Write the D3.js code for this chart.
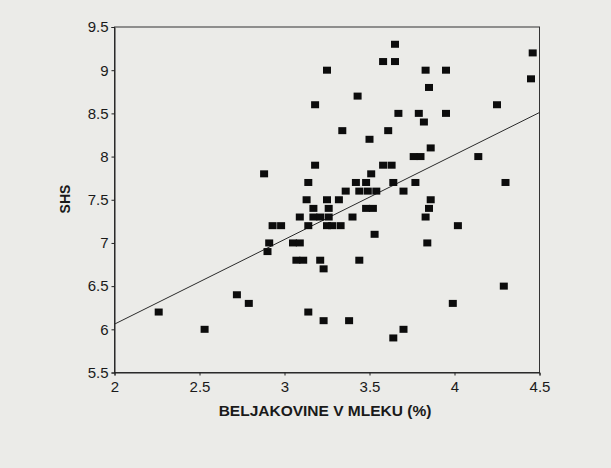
<!DOCTYPE html>
<html>
<head>
<meta charset="utf-8">
<script src="https://cdn.jsdelivr.net/npm/d3@7"></script>
<style>
  body { margin: 0; background: #ebebe8; }
  svg { display: block; font-family: "Liberation Sans", Arial, sans-serif; }
</style>
</head>
<body>
<svg width="611" height="468"></svg>
<script>
// beljakovine v mleku (%) vs SHS
const protein = [
    3.65,
    3.58, 3.65,
    4.46,
    3.25, 3.83, 3.95,
    4.45,
    3.85,
    3.43,
    3.18, 4.25,
    3.67, 3.79, 3.95,
    3.82,
    3.34, 3.61,
    3.50,
    3.86,
    3.76, 3.80, 4.14,
    3.18, 3.58, 3.63,
    2.88, 3.51,
    3.14, 3.42, 3.48, 3.64, 3.77, 4.30,
    3.36, 3.44, 3.49, 3.54, 3.70,
    3.13, 3.25, 3.32, 3.86,
    3.17, 3.26, 3.48, 3.52, 3.85,
    3.09, 3.17, 3.21, 3.26, 3.40, 3.83,
    2.93, 2.98, 3.14, 3.25, 3.28, 3.33, 4.02,
    3.53,
    2.91, 3.05, 3.09, 3.84,
    2.90,
    3.07, 3.11, 3.21, 3.44,
    3.23,
    4.29,
    2.72,
    2.79, 3.99,
    2.26, 3.14,
    3.23, 3.38,
    2.53, 3.70,
    3.64
]
const shs = [
    9.3,
    9.1, 9.1,
    9.2,
    9.0, 9.0, 9.0,
    8.9,
    8.8,
    8.7,
    8.6, 8.6,
    8.5, 8.5, 8.5,
    8.4,
    8.3, 8.3,
    8.2,
    8.1,
    8.0, 8.0, 8.0,
    7.9, 7.9, 7.9,
    7.8, 7.8,
    7.7, 7.7, 7.7, 7.7, 7.7, 7.7,
    7.6, 7.6, 7.6, 7.6, 7.6,
    7.5, 7.5, 7.5, 7.5,
    7.4, 7.4, 7.4, 7.4, 7.4,
    7.3, 7.3, 7.3, 7.3, 7.3, 7.3,
    7.2, 7.2, 7.2, 7.2, 7.2, 7.2, 7.2,
    7.1,
    7.0, 7.0, 7.0, 7.0,
    6.9,
    6.8, 6.8, 6.8, 6.8,
    6.7,
    6.5,
    6.4,
    6.3, 6.3,
    6.2, 6.2,
    6.1, 6.1,
    6.0, 6.0,
    5.9
]
// regression line end points
const fitX = [2, 4.5]
const fitY = [6.06, 8.51]

const xTicks = [2, 2.5, 3, 3.5, 4, 4.5]
const yTicks = [5.5, 6, 6.5, 7, 7.5, 8, 8.5, 9, 9.5]

const svg = d3.select('svg')
const plotL = 114.5, plotR = 539.5, plotT = 27, plotB = 372.5

const x = d3.scaleLinear().domain([2, 4.5]).range([plotL, plotR])
const y = d3.scaleLinear().domain([5.5, 9.5]).range([plotB, plotT])

// frame
svg.append('rect')
    .attr('x', plotL).attr('y', plotT)
    .attr('width', plotR - plotL).attr('height', plotB - plotT)
    .attr('fill', 'none')
    .attr('stroke', '#333')
    .attr('stroke-width', 1)

const xAxis = svg.append('g')
    .attr('transform', `translate(0,${plotB})`)
    .call(d3.axisBottom(x).tickValues(xTicks).tickSize(3).tickPadding(6).tickFormat(d3.format('')))
const yAxis = svg.append('g')
    .attr('transform', `translate(${plotL},0)`)
    .call(d3.axisLeft(y).tickValues(yTicks).tickSize(3).tickPadding(3).tickFormat(d3.format('')))

;[xAxis, yAxis].forEach(a => {
    a.select('.domain').attr('stroke', '#222')
    a.selectAll('.tick line').attr('stroke', '#222')
    a.selectAll('text')
        .attr('fill', '#1a1a1a')
        .style('font-size', '15px')
        .style('font-family', '"Liberation Sans", Arial, sans-serif')
})

// fit line
svg.append('line')
    .attr('x1', x(fitX[0])).attr('y1', y(fitY[0]))
    .attr('x2', x(fitX[1])).attr('y2', y(fitY[1]))
    .attr('stroke', '#2a2a2a')
    .attr('stroke-width', 1)

svg.append('g')
    .selectAll('rect')
    .data(protein.map((p, i) => [p, shs[i]]))
    .enter()
    .append('rect')
    .attr('x', d => x(d[0]) - 4)
    .attr('y', d => y(d[1]) - 3.5)
    .attr('width', 8)
    .attr('height', 7)
    .attr('fill', '#0c0c0c')

svg.append('text')
    .attr('x', (plotL + plotR) / 2 - 2)
    .attr('y', 416)
    .attr('text-anchor', 'middle')
    .attr('font-weight', 'bold')
    .attr('font-size', 15.5)
    .attr('fill', '#1a1a1a')
    .text('BELJAKOVINE V MLEKU (%)')

svg.append('text')
    .attr('transform', 'translate(70,199) rotate(-90)')
    .attr('text-anchor', 'middle')
    .attr('font-weight', 'bold')
    .attr('font-size', 14)
    .attr('fill', '#1a1a1a')
    .text('SHS')
</script>
</body>
</html>
